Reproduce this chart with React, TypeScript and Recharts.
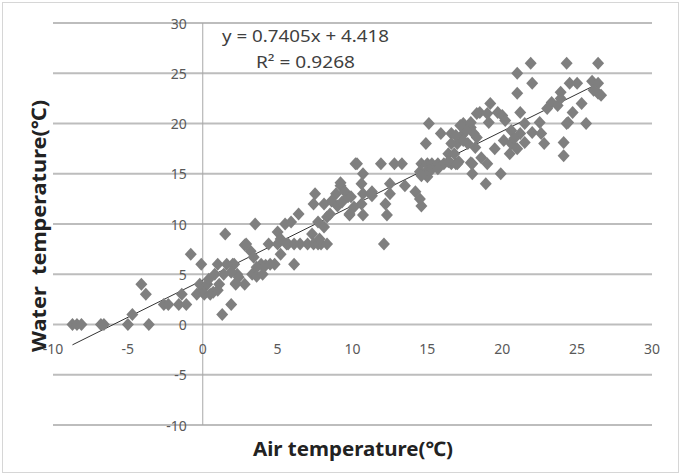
import React from 'react'
import { ScatterChart, Scatter, XAxis, YAxis, ReferenceLine, ReferenceDot, Customized } from 'recharts'

// air temperature (x) vs water temperature (y)
const airTemp = [
  -8.7, -8.4, -8.1, -6.8, -6.6, -5, -4.7, -3.6, -4.1, -3.8, -2.6, -2.3, -1.6, -1.1, -1.4, -0.8, -0.1, -0.4, 0, -0.2,
  0.3, 0.1, 0.5, 1, 0.8, 1.1, 0.7, 1, 1.3, 1.9, 2, 2.3, 2.8, 2.2, 2.8, 1.5, 2.9, 3.2, 2.1, 1.6, 1.9, 2.4, 2.2, 0.4, 1.4,
  3.5, 3.4, 3.9, 4.2, 3.6, 3.3, 3.6, 4, 4.4, 5, 5.2, 5.5, 5.9, 5.7, 5.2, 4.8, 4.5, 6.1, 5, 5.6,
  6.4, 6.1, 6.5, 7, 7.3, 7.4, 7.7, 7.9, 8.3, 7.5, 7.4, 7.7, 7.8, 8.1, 8.3, 8.1, 8.6, 8.9, 9.2, 9, 9.3, 9.7, 9.8, 10.1, 9.2, 9.5, 9.9, 8.5, 9.8,
  10.3, 10.7, 10.6, 10.7, 10.6, 10.7, 11.3, 11.9, 12.1, 12.3, 12.2, 12.5, 12.5, 12.8, 13.3, 13.5, 11.3, 10.2,
  14.2, 14.5, 14.6, 15.1, 15.9, 16.6, 14.9, 14.6, 15, 15.3, 15.7, 16.1, 16.6, 16.9, 14.5, 14.9, 15.2, 15.7, 15, 14.6,
  16.4, 16.8, 17.1, 16.4, 17.9, 18, 17.4, 17.9, 18.3, 18.1, 17.3, 17, 17.7, 18.3, 17.6, 17.2, 16.9, 17.4, 16.6, 17.9, 17,
  18.2, 18.6, 19, 18, 18.9, 19.9, 20.5, 21.5, 19.2, 18.5, 19, 19.7, 20, 19.1, 20.2, 20.6, 21.2, 20.1, 20.6, 21.2, 22.5,
  22, 22.6, 21.9, 21, 22, 21, 21.5, 20.8, 21, 19.5,
  22.8, 24.1, 24.1, 23.9, 23.3, 23.7, 23, 23.9, 25.3, 24.7, 24.4, 25.6, 24.3, 26.4, 24.5, 25, 26, 26.4, 26.4, 26.6, 26.1, 24.3,
]

const waterTemp = [
  0, 0, 0, 0, 0, 0, 1, 0, 4, 3, 2, 2, 2, 2, 3, 7, 6, 3, 3.5, 4,
  4, 3, 3, 6, 5, 4, 3.2, 3.4, 1, 2, 6, 5, 4, 4, 7.9, 9, 8, 7.3, 6, 6, 5.2, 4.7, 4.1, 4.5, 5,
  10, 6.7, 6, 5.9, 5.7, 5, 4.8, 5, 8, 9.2, 8.5, 10, 10.2, 8, 7, 6, 6, 6, 8, 8,
  11, 8, 8, 8, 9, 8, 8, 8, 8, 13, 12, 10.2, 8.5, 9.7, 10.7, 12, 12.3, 13, 13.8, 11.8, 12.2, 12.7, 10.9, 11.7, 14.1, 13.2, 12.7, 11, 11,
  16, 15, 14, 13, 12, 10.9, 12.8, 16, 8, 10.9, 12, 13, 14, 16, 16, 13.8, 13.2, 16,
  13.2, 12.5, 11.8, 20, 19, 19, 18, 16, 16, 16, 16, 16, 16, 16, 15.2, 15.2, 15.3, 15.5, 14.7, 14.8,
  17, 17, 16.2, 16.2, 16.1, 15, 20, 19.6, 21, 19, 18.8, 18, 18, 18.6, 19.3, 19.8, 18.8, 18.3, 18, 20.1, 16,
  17.6, 16.6, 16, 16, 14, 15, 17, 18.1, 22, 21.1, 21, 21.1, 20.8, 20.1, 20.3, 19.3, 19, 18.3, 18, 21.1, 20.1,
  19.1, 19, 26, 25, 24, 23, 20, 18.5, 17.5, 17.5,
  18, 18.1, 16.8, 23.1, 22.1, 21.8, 21.5, 22.5, 22, 21.1, 20.1, 20, 26, 26, 24, 24, 24.2, 24, 23, 22.8, 23.3, 20,
]

const xTicks = [-10, -5, 0, 5, 10, 15, 20, 25, 30]
const yTicks = [-10, -5, 0, 5, 10, 15, 20, 25, 30]

const slope = 0.7405
const intercept = 4.418

const points = airTemp.map((x, i) => ({ x, y: waterTemp[i] }))
const xMin = Math.min(...airTemp)
const xMax = Math.max(...airTemp)

const tickFont = '"Noto Sans", Arial, sans-serif'

const Diamond = (props: any) => {
  const { cx, cy } = props
  if (cx == null || cy == null) return null
  return (
    <polygon
      points={`${cx},${cy - 6.5} ${cx + 6},${cy} ${cx},${cy + 6.5} ${cx - 6},${cy}`}
      fill="#7f7f7f"
    />
  )
}

const Titles = () => (
  <g>
    <text x={222} y={42} fontFamily={tickFont} fontSize={17} fill="#404040" textLength={167} lengthAdjust="spacingAndGlyphs">
      y = 0.7405x + 4.418
    </text>
    <text x={256} y={68} fontFamily={tickFont} fontSize={17} fill="#404040" textLength={99} lengthAdjust="spacingAndGlyphs">
      R² = 0.9268
    </text>
    <text x={253} y={456} fontFamily={tickFont} fontSize={20} fontWeight="bold" fill="#222" textLength={200} lengthAdjust="spacingAndGlyphs">
      Air temperature(℃)
    </text>
    <text
      x={0}
      y={0}
      transform="translate(46, 226) rotate(-90)"
      textAnchor="middle"
      fontFamily={tickFont}
      fontSize={20}
      fontWeight="bold"
      fill="#222"
      textLength={252}
      lengthAdjust="spacingAndGlyphs"
      style={{ whiteSpace: 'pre' }}
    >
      Water  temperature(℃)
    </text>
  </g>
)

export default function App() {
  return (
    <div style={{ position: 'absolute', left: 0, top: 0, width: 682, height: 476, background: '#fff' }}>
      <div style={{ position: 'absolute', left: 2, top: 2, right: 3, bottom: 3, border: '1px solid #d6d6d6', pointerEvents: 'none' }} />
      <ScatterChart width={682} height={476} margin={{ top: 23, right: 30, bottom: 51, left: 53 }}>
        <XAxis type="number" dataKey="x" domain={[-10, 30]} ticks={xTicks} hide />
        <YAxis type="number" dataKey="y" domain={[-10, 30]} ticks={yTicks} hide />
        {yTicks.map((t) => (
          <ReferenceLine key={`g${t}`} y={t} stroke="#bdbdbd" strokeWidth={2} />
        ))}
        <ReferenceLine x={0} stroke="#a8a8a8" strokeWidth={1} />
        {yTicks.map((t) => (
          <ReferenceDot
            key={`yl${t}`}
            x={0}
            y={t}
            r={0}
            shape={(p: any) => (
              <text x={p.cx - 16} y={p.cy} textAnchor="end" dominantBaseline="central" fontFamily={tickFont} fontSize={14} fill="#595959">
                {t}
              </text>
            )}
          />
        ))}
        {xTicks.map((t) => (
          <ReferenceDot
            key={`xl${t}`}
            x={t}
            y={0}
            r={0}
            shape={(p: any) => (
              <text x={p.cx} y={p.cy + 24} textAnchor="middle" dominantBaseline="central" fontFamily={tickFont} fontSize={14} fill="#595959">
                {t}
              </text>
            )}
          />
        ))}
        <Scatter data={points} shape={Diamond} isAnimationActive={false} />
        <ReferenceLine
          segment={[
            { x: xMin, y: slope * xMin + intercept },
            { x: xMax, y: slope * xMax + intercept },
          ]}
          stroke="#333"
          strokeWidth={1}
        />
        <Customized component={Titles} />
      </ScatterChart>
    </div>
  )
}
